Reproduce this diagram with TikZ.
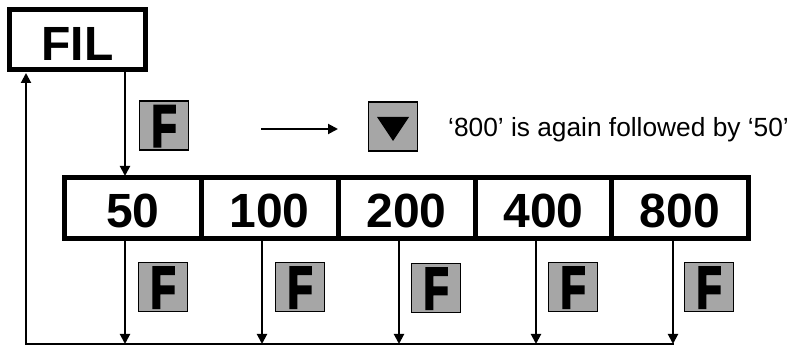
\documentclass[tikz,border=0pt]{standalone}
\usepackage{fontspec}
\setmainfont{Liberation Sans}
\newfontfamily\keyfont[FakeBold=4, FakeStretch=0.68]{Liberation Sans Bold}
\usetikzlibrary{arrows.meta}
\tikzstyle{fil}=[draw, line width=5pt, fill=white, minimum width=136.5pt, minimum height=60pt, inner sep=0pt, text height=42pt, text depth=0pt, font=\bfseries\fontsize{48}{48}\selectfont]
\tikzstyle{cell}=[draw, line width=5pt, fill=white, minimum width=137pt, minimum height=61pt, inner sep=0pt, text height=40pt, text depth=0pt, font=\bfseries\fontsize{48}{48}\selectfont]
\tikzstyle{key}=[draw, line width=1.6pt, fill=black!35, minimum size=49pt, inner sep=0pt, text height=42pt, text depth=0pt, font=\keyfont\fontsize{59}{59}\selectfont]
\tikzstyle{note}=[inner sep=0pt, anchor=west, font=\fontsize{26.3}{26.3}\selectfont]
\tikzstyle{flow}=[line width=2pt, -{Triangle[length=10pt, width=10pt]}]
\tikzstyle{line}=[line width=2pt]

\begin{document}
\begin{tikzpicture}[x=1pt, y=-1pt]
		   \useasboundingbox (0,0) rectangle (793,347);
		   \begin{scope}
			   \node (fil) at (77.5, 40)[fil] {FIL};
			   \node (50) at (133, 208)[cell] {50};
			   \node (100) at (269.5, 208)[cell] {100};
			   \node (200) at (406.5, 208)[cell] {200};
			   \node (400) at (543.5, 208)[cell] {400};
			   \node (800) at (680, 208)[cell] {800};
			   \node (key0) at (164, 125.5)[key] {F};
			   \node (key1) at (163, 287)[key] {F};
			   \node (key2) at (300, 287)[key] {F};
			   \node (key3) at (436, 288)[key] {F};
			   \node (key4) at (573, 287)[key] {F};
			   \node (key5) at (709, 287)[key] {F};
			   \node (down) at (393, 126.5)[key] {};
			   \node (again) at (448, 130)[note] {‘800’ is again followed by ‘50’};
		   \end{scope}
		   \begin{scope}
			   \coordinate (from0) at (125, 70);
			   \coordinate (to0) at (125, 176);
			   \coordinate (from1) at (125, 239);
			   \coordinate (from2) at (262, 239);
			   \coordinate (from3) at (399, 239);
			   \coordinate (from4) at (536, 239);
			   \coordinate (from5) at (673, 239);
			   \coordinate (to1) at (125, 344);
			   \coordinate (to2) at (262, 344);
			   \coordinate (to3) at (399, 344);
			   \coordinate (to4) at (536, 344);
			   \coordinate (to5) at (673, 344);
			   \coordinate (back) at (26, 344);
			   \coordinate (top) at (26, 73);
			   \coordinate (from6) at (261, 129);
			   \coordinate (to6) at (338, 129);
		   \end{scope}
		   \begin{scope}
			   \path [flow] (from0) edge (to0);
			   \path [flow] (from1) edge (to1);
			   \path [flow] (from2) edge (to2);
			   \path [flow] (from3) edge (to3);
			   \path [flow] (from4) edge (to4);
			   \path [flow] (from5) edge (to5);
			   \path [flow] (from6) edge (to6);
			   \path [flow] (back) edge (top);
			   \draw [line, line cap=rect] (to5) -- (back);
			   \fill (down.center) ++(-16,-9.5) -- ++(32,0) -- ++(-16,24) -- cycle;
		   \end{scope}
	   \end{tikzpicture}
\end{document}
